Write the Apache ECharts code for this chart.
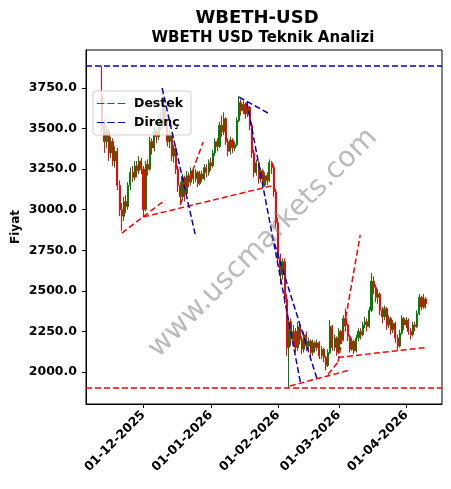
<!DOCTYPE html>
<html><head><meta charset="utf-8">
<script src="https://cdn.jsdelivr.net/npm/echarts@6/dist/echarts.min.js"></script>
<style>html,body{margin:0;padding:0;background:#fff}#c{width:451px;height:489px}</style>
</head><body><div id="c"></div>
<script>
// ---- data ----
const startDate = [2025, 10, 12]; // 12 Nov 2025 (month is 0-based), one candle per day
const opens = [
3700,3520,3420,3480,3350,3420,3300,3360,3150,3000,
2960,3050,3020,3150,3230,3200,3270,3240,3300,3250,
3000,3280,3250,3420,3380,3480,3450,3560,3520,3640,
3560,3420,3460,3330,3380,3250,3150,3080,3200,3100,
3210,3170,3240,3190,3230,3160,3220,3190,3260,3230,
3290,3270,3350,3420,3390,3520,3480,3560,3420,3360,
3430,3380,3400,3550,3660,3610,3650,3590,3630,3520,
3350,3230,3290,3190,3240,3150,3210,3180,3290,3260,
3110,2920,2700,2600,2680,2450,2150,2310,2200,2250,
2150,2280,2200,2140,2230,2160,2190,2120,2180,2150,
2180,2100,2140,2090,2040,2120,2280,2150,2210,2120,
2250,2200,2330,2290,2220,2140,2190,2130,2210,2250,
2230,2290,2310,2280,2380,2560,2520,2460,2480,2380,
2340,2390,2290,2330,2260,2300,2210,2160,2240,2330,
2290,2320,2250,2230,2290,2280,2360,2460,2400,2450];
const closes = [
3520,3420,3480,3350,3420,3300,3360,3150,3000,2960,
3050,3020,3150,3230,3200,3270,3240,3300,3250,3000,
3280,3250,3420,3380,3480,3450,3560,3520,3640,3560,
3420,3460,3330,3380,3250,3150,3080,3200,3100,3210,
3170,3240,3190,3230,3160,3220,3190,3260,3230,3290,
3270,3350,3420,3390,3520,3480,3560,3420,3360,3430,
3380,3400,3550,3660,3610,3650,3590,3630,3520,3350,
3230,3290,3190,3240,3150,3210,3180,3290,3260,3110,
2920,2700,2600,2680,2450,2150,2310,2200,2250,2150,
2280,2200,2140,2230,2160,2190,2120,2180,2150,2180,
2100,2140,2090,2040,2120,2280,2150,2210,2120,2250,
2200,2330,2290,2220,2140,2190,2130,2210,2250,2230,
2290,2310,2280,2380,2560,2520,2460,2480,2380,2340,
2390,2290,2330,2260,2300,2210,2160,2240,2330,2290,
2320,2250,2230,2290,2280,2360,2460,2400,2450,2420];
const lows = [
3480,3350,3380,3300,3320,3270,3260,3120,2960,2870,
2930,2980,3000,3120,3170,3180,3200,3220,3220,2955,
2990,3210,3240,3340,3360,3410,3430,3490,3500,3530,
3390,3380,3300,3290,3220,3110,3030,3060,3050,3090,
3140,3150,3160,3170,3140,3150,3170,3180,3200,3210,
3240,3260,3330,3360,3380,3450,3460,3400,3330,3340,
3350,3360,3390,3540,3580,3590,3560,3570,3490,3320,
3200,3210,3160,3170,3130,3140,3150,3170,3220,3080,
2890,2660,2540,2570,2420,2100,1902,2160,2170,2120,
2130,2170,2110,2120,2130,2140,2090,2100,2120,2130,
2080,2080,2060,2010,2030,2110,2130,2130,2100,2110,
2170,2190,2250,2190,2120,2130,2110,2120,2190,2200,
2220,2270,2250,2270,2370,2480,2430,2420,2350,2300,
2320,2260,2270,2230,2240,2180,2135,2150,2230,2260,
2270,2230,2200,2220,2250,2270,2350,2380,2390,2390];
const highs = [
3885,3560,3520,3500,3450,3440,3390,3380,3180,3040,
3080,3090,3170,3260,3270,3300,3300,3330,3320,3270,
3300,3310,3450,3440,3510,3500,3590,3600,3740,3660,
3580,3490,3470,3400,3390,3270,3170,3220,3210,3240,
3230,3260,3250,3250,3240,3240,3240,3280,3280,3310,
3320,3370,3440,3440,3540,3580,3600,3570,3440,3450,
3440,3420,3570,3700,3680,3670,3660,3665,3640,3540,
3370,3310,3300,3260,3250,3230,3230,3310,3300,3280,
3130,2950,2730,2700,2700,2480,2330,2330,2290,2270,
2310,2300,2220,2250,2250,2210,2200,2200,2190,2200,
2190,2160,2150,2100,2140,2320,2290,2230,2220,2270,
2260,2350,2390,2300,2230,2210,2200,2230,2270,2270,
2310,2340,2330,2400,2610,2590,2540,2510,2490,2400,
2410,2400,2350,2340,2320,2310,2230,2260,2350,2340,
2340,2330,2270,2310,2310,2380,2480,2470,2480,2460];

// x ticks (dates) and labels, y ticks
const xTickDates = [[2025,11,1],[2026,0,1],[2026,1,1],[2026,2,1],[2026,3,1]];
const xTickLabels = ['01-12-2025','01-01-2026','01-02-2026','01-03-2026','01-04-2026'];
const yTicks = [2000,2250,2500,2750,3000,3250,3500,3750];

// trend lines: [dayOffsetFromStart, price] pairs
const supportLines = [
  [[9.1,2856],[29,3060]],
  [[18.9,2955],[79.5,3152]],
  [[35.9,3029],[46.5,3417]],
  [[86.4,1914],[114,2012]],
  [[104,1985],[108.6,2062]],
  [[108.6,2062],[118.8,2844]],
  [[108.6,2090],[148.4,2150]]
];
const resistanceLines = [
  [[27.6,3750],[42.8,2850]],
  [[63,3694],[76.3,3596]],
  [[66.6,3664],[91.5,1920]],
  [[78.1,2844],[98.8,1963]]
];
const supportLevel = 1902;
const resistanceLevel = 3885;

// ---- build ----
const DAY = 86400000;
const base = Date.UTC(startDate[0], startDate[1], startDate[2]);
const candles = closes.map((c, i) => [i, opens[i], c, lows[i], highs[i]]);
const xTicks = xTickDates.map(d => Math.round((Date.UTC(d[0], d[1], d[2]) - base) / DAY));
const firstDay = 0, lastDay = closes.length - 1;
const span = lastDay - firstDay;
const xMin = firstDay - span * 0.05;
const xMax = lastDay + span * 0.05;
const allLow = Math.min(...lows), allHigh = Math.max(...highs);
const yMin = allLow - (allHigh - allLow) * 0.05;
const yMax = allHigh + (allHigh - allLow) * 0.05;

const FONT = 'DejaVu Sans';
const RED = '#ff0000', BLUE = '#0000cc';
const dash = [6, 3];
const dashIcon = 'path://M0,0H7V1H0Z M10,0H17V1H10Z M20,0H27V1H20Z';
function lineSeries(name, color, pts) {
  return {
    type: 'line', name: name, symbol: 'none', silent: true,
    data: pts,
    lineStyle: { color: color, width: 1.5, type: dash },
    itemStyle: { color: color }, z: 5
  };
}
const series = [{
  type: 'candlestick', name: 'WBETH', data: candles, barWidth: 1.6,
  itemStyle: { color: '#008000', color0: RED, borderColor: '#008000', borderColor0: RED, borderWidth: 1 },
  markLine: {
    symbol: 'none', silent: true, label: { show: false },
    data: [
      { yAxis: supportLevel, lineStyle: { color: RED, width: 1.5, type: dash } },
      { yAxis: resistanceLevel, lineStyle: { color: BLUE, width: 1.5, type: dash } }
    ]
  }
}];
supportLines.forEach(p => series.push(lineSeries('Destek', RED, p)));
resistanceLines.forEach(p => series.push(lineSeries('Direnç', BLUE, p)));

const chart = echarts.init(document.getElementById('c'), null, { renderer: 'canvas' });
chart.setOption({
  animation: false,
  backgroundColor: '#fff',
  textStyle: { fontFamily: FONT },
  title: [
    { text: 'WBETH-USD', left: 257, top: 9, textAlign: 'center', padding: 0,
      textStyle: { fontSize: 18, fontWeight: 'bold', color: '#000', fontFamily: FONT } },
    { text: 'WBETH USD Teknik Analizi', left: 263, top: 31, textAlign: 'center', padding: 0,
      textStyle: { fontSize: 15, fontWeight: 'bold', color: '#000', fontFamily: FONT } }
  ],
  legend: {
    data: [
      { name: 'Destek', icon: dashIcon, itemStyle: { color: RED, borderWidth: 0, opacity: 1 } },
      { name: 'Direnç', icon: dashIcon, itemStyle: { color: BLUE, borderWidth: 0, opacity: 1 } }
    ],
    orient: 'vertical', left: 93, top: 91,
    itemWidth: 28, itemHeight: 2, itemGap: 6,
    padding: [6, 8, 6, 4],
    backgroundColor: 'rgba(255,255,255,0.8)', borderColor: '#d0d0d0', borderWidth: 1, borderRadius: 3,
    textStyle: { fontSize: 12.5, fontWeight: 'bold', color: '#000', fontFamily: FONT, padding: [0, 0, 0, 4] },
    selectedMode: false
  },
  grid: { left: 86, top: 50, width: 356, height: 354, outerBoundsMode: 'none', containLabel: false,
    show: true, borderColor: '#000', borderWidth: 1, backgroundColor: 'transparent' },
  xAxis: {
    type: 'value', min: xMin, max: xMax,
    axisLine: { show: true, onZero: false, lineStyle: { color: '#000', width: 1 } },
    axisTick: { show: true, length: 4, customValues: xTicks, lineStyle: { color: '#000' } },
    splitLine: { show: false },
    axisLabel: {
      customValues: xTicks, rotate: 45, margin: 9, color: '#000', fontSize: 12.5, fontWeight: 'bold', fontFamily: FONT,
      formatter: v => { const i = xTicks.indexOf(v); return i >= 0 ? xTickLabels[i] : ''; }
    }
  },
  yAxis: {
    type: 'value', min: yMin, max: yMax,
    name: 'Fiyat', nameLocation: 'middle', nameGap: 64, nameMoveOverlap: false,
    nameTextStyle: { fontSize: 12, fontWeight: 'bold', color: '#000', fontFamily: FONT },
    axisLine: { show: true, onZero: false, lineStyle: { color: '#000', width: 1 } },
    axisTick: { show: true, length: 4, customValues: yTicks, lineStyle: { color: '#000' } },
    splitLine: { show: false },
    axisLabel: { customValues: yTicks, margin: 9, color: '#000', fontSize: 12.5, fontWeight: 'bold', fontFamily: FONT,
      formatter: v => v.toFixed(1) }
  },
  graphic: [{
    type: 'text', x: 263, y: 243, rotation: Math.PI / 4, z: 100, silent: true,
    style: { text: 'www.uscmarkets.com', fontSize: 28.5, fontFamily: FONT, fill: 'rgba(120,120,120,0.5)', align: 'center', verticalAlign: 'middle' }
  }],
  series: series
});
</script></body></html>
